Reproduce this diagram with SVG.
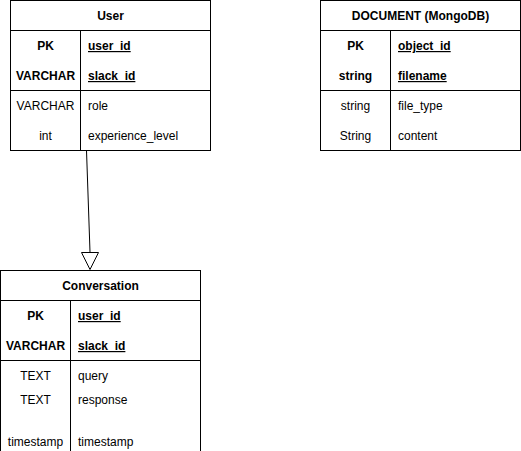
<svg xmlns="http://www.w3.org/2000/svg" width="521" height="451" viewBox="0 0 521 451">
<style>
.box{fill:#fff;stroke:#000;stroke-width:1}
.ln{stroke:#000;stroke-width:1;fill:none}
text{font-family:"Liberation Sans",Arial,sans-serif;font-size:12px;fill:#000}
.b{font-weight:bold}
.c{text-anchor:middle}
.u{text-decoration:underline}
</style>
<rect width="521" height="451" fill="#fff"/>
<g id="user">
<rect class="box" x="10.5" y="0.5" width="200" height="150"/>
<line class="ln" x1="10.5" y1="30.5" x2="210.5" y2="30.5"/>
<line class="ln" x1="10.5" y1="90.5" x2="210.5" y2="90.5"/>
<line class="ln" x1="80.5" y1="30.5" x2="80.5" y2="150.5"/>
<text class="b c" x="110.5" y="20">User</text>
<text class="b c" x="45.5" y="50">PK</text>
<text class="b u" x="88" y="50">user_id</text>
<text class="b c" x="45.5" y="80">VARCHAR</text>
<text class="b u" x="88" y="80">slack_id</text>
<text class="c" x="45.5" y="110">VARCHAR</text>
<text x="88" y="110">role</text>
<text class="c" x="45.5" y="140">int</text>
<text x="88" y="140">experience_level</text>
</g>
<g id="document">
<rect class="box" x="320.5" y="0.5" width="200" height="150"/>
<line class="ln" x1="320.5" y1="30.5" x2="520.5" y2="30.5"/>
<line class="ln" x1="320.5" y1="90.5" x2="520.5" y2="90.5"/>
<line class="ln" x1="390.5" y1="30.5" x2="390.5" y2="150.5"/>
<text class="b c" x="420.5" y="20">DOCUMENT (MongoDB)</text>
<text class="b c" x="355.5" y="50">PK</text>
<text class="b u" x="398" y="50">object_id</text>
<text class="b c" x="355.5" y="80">string</text>
<text class="b u" x="398" y="80">filename</text>
<text class="c" x="355.5" y="110">string</text>
<text x="398" y="110">file_type</text>
<text class="c" x="355.5" y="140">String</text>
<text x="398" y="140">content</text>
</g>
<g id="conversation">
<rect class="box" x="0.5" y="270.5" width="200" height="190"/>
<line class="ln" x1="0.5" y1="300.5" x2="200.5" y2="300.5"/>
<line class="ln" x1="0.5" y1="360.5" x2="200.5" y2="360.5"/>
<line class="ln" x1="70.5" y1="300.5" x2="70.5" y2="460"/>
<text class="b c" x="100.5" y="290">Conversation</text>
<text class="b c" x="35.5" y="320">PK</text>
<text class="b u" x="78" y="320">user_id</text>
<text class="b c" x="35.5" y="350">VARCHAR</text>
<text class="b u" x="78" y="350">slack_id</text>
<text class="c" x="35.5" y="380">TEXT</text>
<text x="78" y="380">query</text>
<text class="c" x="35.5" y="404">TEXT</text>
<text x="78" y="404">response</text>
<text class="c" x="35.5" y="446">timestamp</text>
<text x="78" y="446">timestamp</text>
</g>
<g id="connectors">
<line class="ln" x1="86.5" y1="150.5" x2="90" y2="252"/>
<path class="ln" d="M81.5,252.5 L98.5,252.5 L90,269.5 Z" fill="#fff"/>
</g>
</svg>
